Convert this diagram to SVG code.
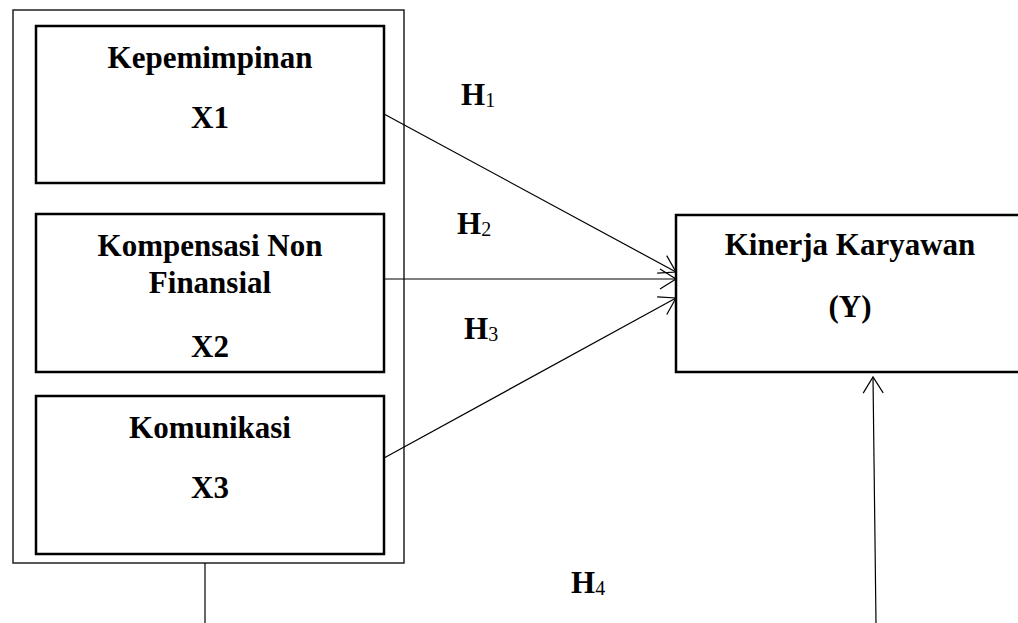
<svg xmlns="http://www.w3.org/2000/svg" width="1018" height="623" viewBox="0 0 1018 623">
<defs>
<style>
.box{fill:#fff;stroke:#000;stroke-width:2.5}
.outer{fill:none;stroke:#222;stroke-width:1.5}
.t{font-family:"Liberation Serif","Times New Roman",serif;font-weight:bold;font-size:31px;fill:#000;text-anchor:middle}
.h{font-family:"Liberation Serif","Times New Roman",serif;font-weight:bold;font-size:31px;fill:#000}
.sub{font-size:20px;font-weight:normal}
.c{fill:none;stroke:#000;stroke-width:1.2}
</style>
<marker id="arr" markerUnits="userSpaceOnUse" markerWidth="20" markerHeight="24" viewBox="-18 -12 20 24" refX="0" refY="0" orient="auto">
<path d="M-16,-10 L0,0 L-16,10" fill="none" stroke="#000" stroke-width="1.2"/>
</marker>
</defs>
<rect width="1018" height="623" fill="#fff"/>
<g id="group-x">
<rect class="outer" x="13" y="10" width="391" height="553"/>
</g>
<g id="x1">
<rect class="box" x="36" y="26" width="348" height="157"/>
<text class="t" x="210" y="68">Kepemimpinan</text>
<text class="t" x="210" y="128">X1</text>
</g>
<g id="x2">
<rect class="box" x="36" y="214" width="348" height="158"/>
<text class="t" x="210" y="256">Kompensasi Non</text>
<text class="t" x="210" y="293">Finansial</text>
<text class="t" x="210" y="357">X2</text>
</g>
<g id="x3">
<rect class="box" x="36" y="396" width="348" height="158"/>
<text class="t" x="210" y="438">Komunikasi</text>
<text class="t" x="210" y="498">X3</text>
</g>
<g id="y">
<rect class="box" x="676" y="215" width="348" height="157"/>
<text class="t" x="850" y="255">Kinerja Karyawan</text>
<text class="t" x="850" y="317">(Y)</text>
</g>
<g id="connectors">
<line class="c" x1="384" y1="114" x2="676" y2="272" marker-end="url(#arr)"/>
<line class="c" x1="384" y1="279" x2="676" y2="279" marker-end="url(#arr)"/>
<line class="c" x1="384" y1="458" x2="676" y2="298" marker-end="url(#arr)"/>
<line class="c" x1="876" y1="623" x2="873" y2="377" marker-end="url(#arr)"/>
<line class="c" x1="205" y1="563" x2="205" y2="623"/>
</g>
<g id="labels">
<text class="h" x="461" y="105">H<tspan class="sub" dy="2">1</tspan></text>
<text class="h" x="457" y="234">H<tspan class="sub" dy="2">2</tspan></text>
<text class="h" x="464" y="339">H<tspan class="sub" dy="2">3</tspan></text>
<text class="h" x="571" y="593">H<tspan class="sub" dy="2">4</tspan></text>
</g>
</svg>
